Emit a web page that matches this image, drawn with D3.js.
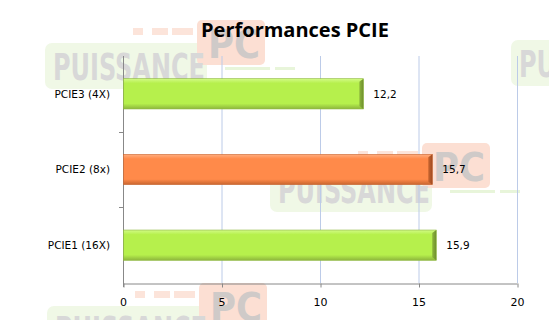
<!DOCTYPE html>
<html>
<head>
<meta charset="utf-8">
<script src="https://cdn.jsdelivr.net/npm/d3@7"></script>
<style>
  body { margin: 0; background: #fff; }
  svg { display: block; }
</style>
</head>
<body>
<div id="chart"></div>
<script>
// data (top to bottom)
const categories = ['PCIE3 (4X)', 'PCIE2 (8x)', 'PCIE1 (16X)'];
const values = [12.2, 15.7, 15.9];
const valueLabels = ['12,2', '15,7', '15,9'];
const barKinds = ['green', 'orange', 'green'];
const xTicks = [0, 5, 10, 15, 20];

const W = 549, H = 320;
const margin = { top: 56, right: 32, bottom: 37, left: 123 };
const width = W - margin.left - margin.right;
const height = H - margin.top - margin.bottom;

const palette = {
  green: { light: '#d2fb86', base: '#b6f04c', dark: '#8db63c', edge: '#6f8f2e' },
  orange: { light: '#ffae80', base: '#ff8a4a', dark: '#c8652f', edge: '#a04a22' }
};

const svg = d3.select('#chart').append('svg')
  .attr('width', W)
  .attr('height', H);

// --- watermark "PUISSANCE PC" (faint logo behind the chart)
const wmFont = 'Liberation Sans Narrow, DejaVu Sans Condensed, sans-serif';
function watermark(dx, dy) {
  const g = svg.append('g').attr('transform', `translate(${dx},${dy})`);
  g.append('rect').attr('x', 45).attr('y', 43).attr('width', 162).attr('height', 46)
    .attr('rx', 7).attr('fill', '#f0f8e6');
  [[133, 10], [152, 16], [172, 21]].forEach(([x, w]) => {
    g.append('rect').attr('x', x).attr('y', 28).attr('width', w).attr('height', 7).attr('fill', '#fce4da');
  });
  [[225, 45], [275, 20]].forEach(([x, w]) => {
    g.append('rect').attr('x', x).attr('y', 67).attr('width', w).attr('height', 3).attr('fill', '#e8f5da');
  });
  g.append('rect').attr('x', 197).attr('y', 20).attr('width', 68).attr('height', 45)
    .attr('rx', 5).attr('fill', '#fcdfd3');
  g.append('text').attr('x', 53).attr('y', 80)
    .attr('font-family', wmFont)
    .attr('font-weight', 'bold').attr('font-size', 37)
    .attr('textLength', 152).attr('lengthAdjust', 'spacingAndGlyphs')
    .attr('fill', '#d8d8d8').text('PUISSANCE');
  g.append('text').attr('x', 208).attr('y', 58)
    .attr('font-family', wmFont)
    .attr('font-weight', 'bold').attr('font-size', 39)
    .attr('textLength', 52).attr('lengthAdjust', 'spacingAndGlyphs')
    .attr('fill', '#cfcac8').text('PC');
}
watermark(0, 0);
watermark(225, 123);
watermark(2, 263);
watermark(466, -3);

// --- title
svg.append('text')
  .attr('x', 295)
  .attr('y', 37)
  .attr('text-anchor', 'middle')
  .attr('font-family', 'Open Sans, Noto Sans, sans-serif')
  .attr('font-weight', 'bold')
  .attr('font-size', 20)
  .attr('fill', '#000')
  .text('Performances PCIE');

// --- scales
const x = d3.scaleLinear().domain([0, 20]).range([0, width]);
const y = d3.scaleBand().domain(categories).range([0, height]).paddingInner(0.6).paddingOuter(0.3);
const yBand = d3.scaleBand().domain(categories).range([0, height]);

const g = svg.append('g').attr('transform', `translate(${margin.left},${margin.top})`);

// gradients
const defs = svg.append('defs');
Object.entries(palette).forEach(([k, c]) => {
  const lg = defs.append('linearGradient').attr('id', 'grad-' + k)
    .attr('x1', 0).attr('y1', 0).attr('x2', 0).attr('y2', 1);
  lg.append('stop').attr('offset', '0%').attr('stop-color', c.light);
  lg.append('stop').attr('offset', '15%').attr('stop-color', c.base);
  lg.append('stop').attr('offset', '82%').attr('stop-color', c.base);
  lg.append('stop').attr('offset', '100%').attr('stop-color', c.dark);
  const rg = defs.append('linearGradient').attr('id', 'edge-' + k)
    .attr('x1', 0).attr('y1', 0).attr('x2', 1).attr('y2', 0);
  rg.append('stop').attr('offset', '0%').attr('stop-color', c.dark);
  rg.append('stop').attr('offset', '100%').attr('stop-color', c.edge);
});

// gridlines
g.append('g')
  .selectAll('line')
  .data(xTicks.filter(d => d > 0))
  .enter().append('line')
  .attr('x1', d => x(d) + 0.5).attr('x2', d => x(d) + 0.5)
  .attr('y1', 0).attr('y2', height)
  .attr('stroke', '#bccbe8')
  .attr('stroke-width', 1);

// x axis
const xAxis = g.append('g')
  .attr('transform', `translate(0,${height + 0.5})`)
  .call(d3.axisBottom(x).tickValues(xTicks).tickSize(4).tickSizeOuter(0));
xAxis.select('.domain').attr('stroke', '#888');
xAxis.selectAll('.tick line').attr('stroke', '#888').attr('transform', 'translate(0.5,0)');
xAxis.selectAll('text')
  .attr('y', 15)
  .attr('font-family', 'DejaVu Sans, Verdana, sans-serif')
  .attr('font-size', 11)
  .attr('fill', '#000');

// y axis line + ticks at band boundaries
g.append('line')
  .attr('x1', 0.5).attr('x2', 0.5).attr('y1', 0).attr('y2', height + 4)
  .attr('stroke', '#888');
g.append('g')
  .selectAll('line')
  .data(categories.slice(1))
  .enter().append('line')
  .attr('x1', -4).attr('x2', 0)
  .attr('y1', d => Math.round(yBand(d)) + 0.5).attr('y2', d => Math.round(yBand(d)) + 0.5)
  .attr('stroke', '#888');

// category labels
g.append('g')
  .selectAll('text')
  .data(categories)
  .enter().append('text')
  .attr('x', -13)
  .attr('y', d => yBand(d) + yBand.bandwidth() / 2)
  .attr('dy', '0.35em')
  .attr('text-anchor', 'end')
  .attr('font-family', 'DejaVu Sans, Verdana, sans-serif')
  .attr('font-size', 10.5)
  .attr('fill', '#000')
  .text(d => d);

// bars
const bars = g.append('g')
  .selectAll('g')
  .data(categories.map((c, i) => ({ cat: c, value: values[i], label: valueLabels[i], kind: barKinds[i] })))
  .enter().append('g');

bars.append('rect')
  .attr('x', 0.5)
  .attr('y', d => y(d.cat))
  .attr('width', d => x(d.value) - 0.5)
  .attr('height', y.bandwidth())
  .attr('fill', d => `url(#grad-${d.kind})`)
  .attr('stroke', d => palette[d.kind].dark)
  .attr('stroke-width', 0.6);

// right bevel
bars.append('path')
  .attr('d', d => {
    const x1 = x(d.value), y0 = y(d.cat), h = y.bandwidth();
    return `M${x1 - 4},${y0 + 3} L${x1},${y0} L${x1},${y0 + h} L${x1 - 4},${y0 + h - 3} Z`;
  })
  .attr('fill', d => `url(#edge-${d.kind})`);

// value labels
bars.append('text')
  .attr('x', d => x(d.value) + 10)
  .attr('y', d => y(d.cat) + y.bandwidth() / 2)
  .attr('dy', '0.35em')
  .attr('font-family', 'DejaVu Sans, Verdana, sans-serif')
  .attr('font-size', 10.5)
  .attr('fill', '#000')
  .text(d => d.label);
</script>
</body>
</html>
